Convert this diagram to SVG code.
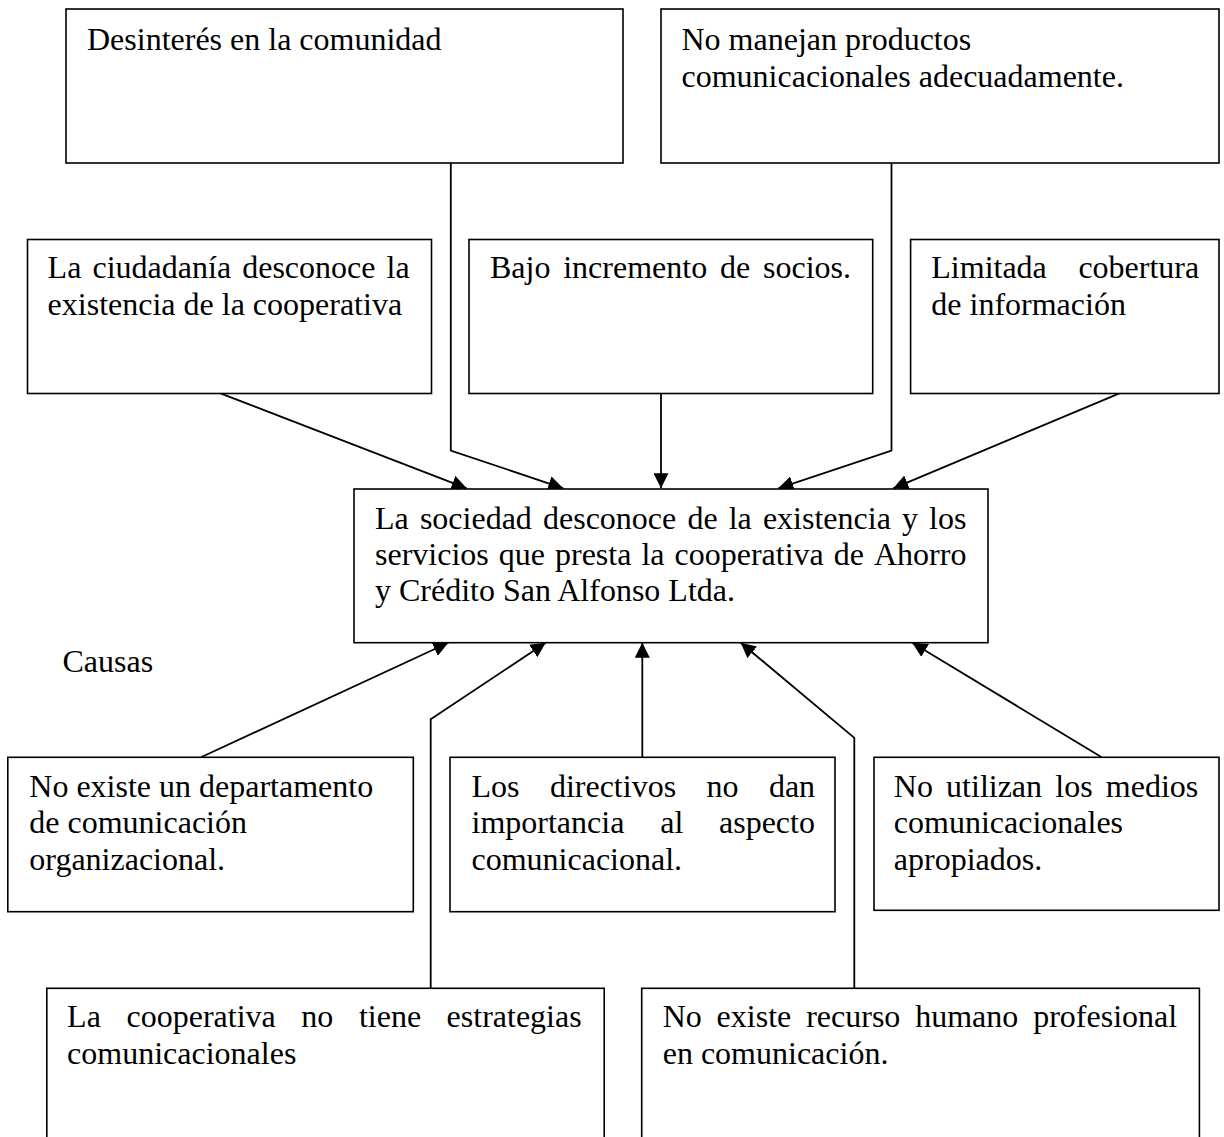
<svg xmlns="http://www.w3.org/2000/svg" width="1224" height="1137" viewBox="0 0 1224 1137">
<style>
  .box { fill: #ffffff; stroke: #000000; stroke-width: 1.6; }
  .t { font-family: "Liberation Serif", "Times New Roman", serif; font-size: 32px; fill: #000000; }
  .conn { fill: none; stroke: #000000; stroke-width: 1.8; marker-end: url(#arrow); }
</style>
<defs>
  <marker id="arrow" markerUnits="userSpaceOnUse" markerWidth="15" markerHeight="15" viewBox="0 0 15 15" refX="15" refY="7.5" orient="auto">
    <path d="M0,0 L15,7.5 L0,15 z" fill="#000000"/>
  </marker>
</defs>
<rect width="1224" height="1137" fill="#ffffff"/>

<g id="connectors">
  <line class="conn" x1="220.5" y1="393.3" x2="466.7" y2="488.3"/>
  <polyline class="conn" points="450.8,162.7 450.8,450.5 563.3,488.3"/>
  <line class="conn" x1="661" y1="393.3" x2="661" y2="488.3"/>
  <polyline class="conn" points="891.5,162.7 891.5,450.5 778.3,488.3"/>
  <line class="conn" x1="1119.4" y1="393.3" x2="893.3" y2="488.3"/>
  <line class="conn" x1="201" y1="757.3" x2="448.3" y2="642.7"/>
  <polyline class="conn" points="430.7,988.3 430.7,719.3 545.7,642.7"/>
  <line class="conn" x1="642.3" y1="757.3" x2="642.3" y2="642.7"/>
  <polyline class="conn" points="854.3,988.3 854.3,737.8 740.7,642.7"/>
  <line class="conn" x1="1101.7" y1="757.3" x2="912.3" y2="642.7"/>
</g>

<g id="desinteres">
  <rect class="box" x="66" y="9" width="557" height="154"/>
  <text class="t" x="87" y="50">Desinterés en la comunidad</text>
</g>

<g id="no-manejan">
  <rect class="box" x="661" y="9" width="558" height="154"/>
  <text class="t" x="681.5" y="50">No manejan productos</text>
  <text class="t" x="681.5" y="86.7">comunicacionales adecuadamente.</text>
</g>

<g id="ciudadania">
  <rect class="box" x="27.5" y="239.5" width="404" height="154"/>
  <text class="t" y="278.3"><tspan x="47.6">La</tspan><tspan x="92.5">ciudadanía</tspan><tspan x="242.2">desconoce</tspan><tspan x="386.6">la</tspan></text>
  <text class="t" x="47.6" y="315">existencia de la cooperativa</text>
</g>

<g id="bajo">
  <rect class="box" x="469" y="239.5" width="403.7" height="154"/>
  <text class="t" y="278.3"><tspan x="490">Bajo</tspan><tspan x="563.2">incremento</tspan><tspan x="720">de</tspan><tspan x="763">socios.</tspan></text>
</g>

<g id="limitada">
  <rect class="box" x="910.6" y="239.5" width="308.4" height="154"/>
  <text class="t" y="278.3"><tspan x="931.3">Limitada</tspan><tspan x="1078.4">cobertura</tspan></text>
  <text class="t" x="931.3" y="315">de información</text>
</g>

<g id="problema-central">
  <rect class="box" x="354" y="489" width="634" height="153.7"/>
  <text class="t" y="529.3"><tspan x="375">La</tspan><tspan x="419.9">sociedad</tspan><tspan x="543">desconoce</tspan><tspan x="687.4">de</tspan><tspan x="728.7">la</tspan><tspan x="762.9">existencia</tspan><tspan x="902">y</tspan><tspan x="929.1">los</tspan></text>
  <text class="t" y="565.3"><tspan x="375">servicios</tspan><tspan x="498.8">que</tspan><tspan x="555">presta</tspan><tspan x="641.4">la</tspan><tspan x="674.5">cooperativa</tspan><tspan x="833.8">de</tspan><tspan x="874">Ahorro</tspan></text>
  <text class="t" x="375" y="601.3">y Crédito San Alfonso Ltda.</text>
</g>

<g id="causas-label">
  <text class="t" x="62.5" y="671.7">Causas</text>
</g>

<g id="no-departamento">
  <rect class="box" x="7.8" y="757.3" width="405.5" height="154.4"/>
  <text class="t" x="29.3" y="796.7">No existe un departamento</text>
  <text class="t" x="29.3" y="833.3">de comunicación</text>
  <text class="t" x="29.3" y="870">organizacional.</text>
</g>

<g id="directivos">
  <rect class="box" x="450" y="757.3" width="385" height="154.4"/>
  <text class="t" y="796.7"><tspan x="471.5">Los</tspan><tspan x="549.9">directivos</tspan><tspan x="706.5">no</tspan><tspan x="768.9">dan</tspan></text>
  <text class="t" y="833.3"><tspan x="471.5">importancia</tspan><tspan x="660.2">al</tspan><tspan x="719">aspecto</tspan></text>
  <text class="t" x="471.5" y="870">comunicacional.</text>
</g>

<g id="no-utilizan">
  <rect class="box" x="874" y="757.3" width="345" height="153"/>
  <text class="t" y="796.7"><tspan x="893.8">No</tspan><tspan x="946.1">utilizan</tspan><tspan x="1055.3">los</tspan><tspan x="1105.8">medios</tspan></text>
  <text class="t" x="893.8" y="833.3">comunicacionales</text>
  <text class="t" x="893.8" y="870">apropiados.</text>
</g>

<g id="sin-estrategias">
  <rect class="box" x="46.8" y="988.3" width="557.4" height="170"/>
  <text class="t" y="1026.7"><tspan x="67.1">La</tspan><tspan x="126.5">cooperativa</tspan><tspan x="301.3">no</tspan><tspan x="358.9">tiene</tspan><tspan x="446.6">estrategias</tspan></text>
  <text class="t" x="67.1" y="1063.5">comunicacionales</text>
</g>

<g id="sin-recurso-humano">
  <rect class="box" x="641.7" y="988.3" width="557.7" height="170"/>
  <text class="t" y="1026.7"><tspan x="662.7">No</tspan><tspan x="716.6">existe</tspan><tspan x="806.2">recurso</tspan><tspan x="915.2">humano</tspan><tspan x="1033.2">profesional</tspan></text>
  <text class="t" x="662.7" y="1063.5">en comunicación.</text>
</g>
</svg>
